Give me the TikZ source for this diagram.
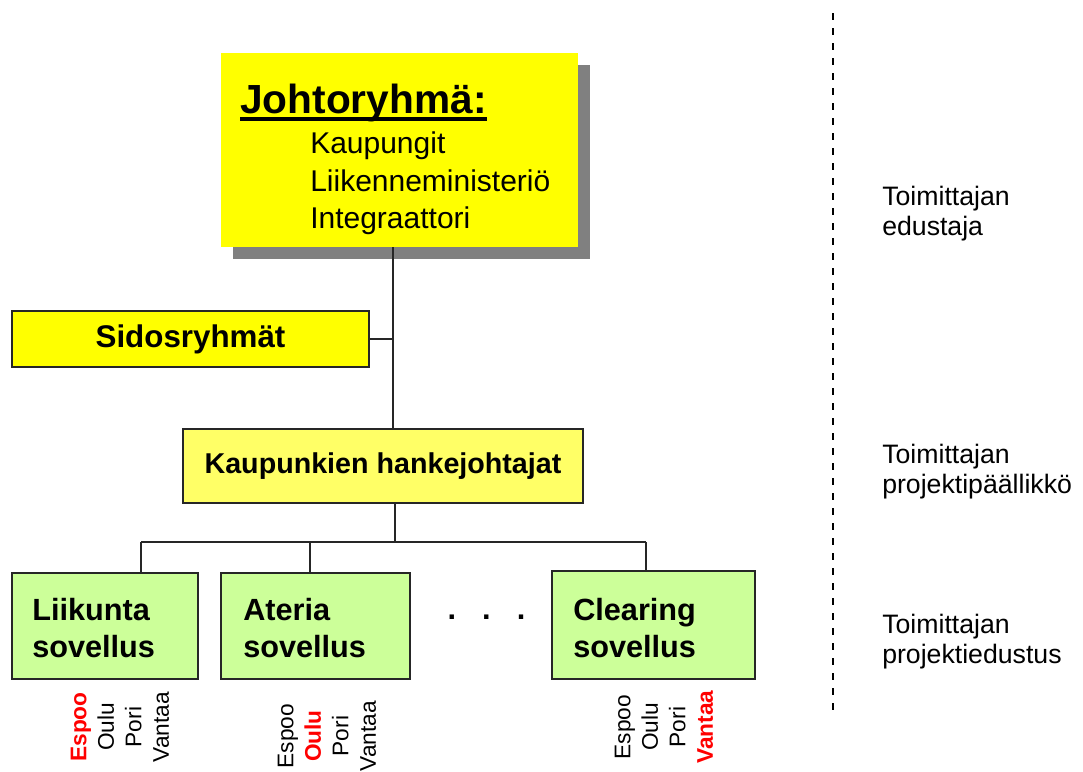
\documentclass[tikz,border=0pt]{standalone}
\usepackage{fontspec}
\setmainfont{Liberation Sans}
\usetikzlibrary{calc,shadows}
\definecolor{yel}{HTML}{FFFF00}
\definecolor{lyel}{HTML}{FFFF66}
\definecolor{grn}{HTML}{CCFF99}
\definecolor{shd}{HTML}{808080}
\definecolor{hred}{HTML}{FF0000}
\begin{document}
\begin{tikzpicture}[x=0.75pt,y=-0.75pt,
  conn/.style={draw=black!85, line width=1.1pt},
  boxborder/.style={draw=black!85, line width=1.1pt, inner sep=0pt},
  mainbox/.style={fill=yel, inner sep=0pt, drop shadow={shadow xshift=9pt, shadow yshift=-9pt, fill=shd, opacity=1}},
  ybox/.style={boxborder, fill=yel},
  lbox/.style={boxborder, fill=lyel},
  gbox/.style={boxborder, fill=grn},
  mtext/.style={anchor=base west, inner sep=0pt, font=\fontsize{22.5}{27}\selectfont},
  gtext/.style={anchor=base west, inner sep=0pt, font=\fontsize{23}{28}\selectfont\bfseries},
  rtext/.style={anchor=base west, inner sep=0pt, font=\fontsize{20}{24}\selectfont},
  city/.style={rotate=90, align=center, inner sep=0pt, font=\fontsize{17}{20.6}\selectfont}
]
\useasboundingbox (0,0) rectangle (1083,772);

% top box
\node[mainbox, minimum width=267.75pt, minimum height=145.5pt] (main) at (399.5,150) {};
\node[anchor=base west, inner sep=0pt, font=\fontsize{30.5}{36}\selectfont\bfseries] (title) at (240,113) {Johtoryhmä:};
\draw[line width=3pt] ($(title.base west)+(0,6)$) -- ($(title.base east)+(0,6)$);
\node[mtext] (m1) at (310,153) {Kaupungit};
\node[mtext] (m2) at (310,191) {Liikenneministeriö};
\node[mtext] (m3) at (310,228) {Integraattori};

% middle boxes
\node[ybox, minimum width=267.75pt, minimum height=42pt, font=\fontsize{23.5}{28}\selectfont\bfseries] (sid) at (190.5,339) {Sidosryhmät};
\node[lbox, minimum width=300pt, minimum height=55.5pt, font=\fontsize{21.5}{26}\selectfont\bfseries] (kp) at (383,466) {Kaupunkien hankejohtajat};

% application boxes
\node[gbox, minimum width=139.5pt, minimum height=79.5pt] (liik) at (105,626) {};
\node[gbox, minimum width=141.75pt, minimum height=79.5pt] (ater) at (315.5,626) {};
\node[gbox, minimum width=152.25pt, minimum height=81pt] (clr) at (653.5,625) {};
\node[gtext] (liik1) at (32,620) {Liikunta};
\node[gtext] (liik2) at (32,657) {sovellus};
\node[gtext] (ater1) at (243,620) {Ateria};
\node[gtext] (ater2) at (243,657) {sovellus};
\node[gtext] (clr1) at (573,620) {Clearing};
\node[gtext] (clr2) at (573,657) {sovellus};
\node[anchor=base, inner sep=0pt, font=\fontsize{23}{28}\selectfont\bfseries] (dots) at (486.5,619) {\makebox[25.9pt]{.}\makebox[25.9pt]{.}\makebox[25.9pt]{.}};

% city labels
\node[city] (c1) at (120,727) {{\color{hred}\bfseries Espoo}\\Oulu\\Pori\\Vantaa};
\node[city] (c2) at (327,736) {Espoo\\{\color{hred}\bfseries Oulu}\\Pori\\Vantaa};
\node[city] (c3) at (664,727) {Espoo\\Oulu\\Pori\\{\color{hred}\bfseries Vantaa}};

% connectors
\coordinate (vx) at (393,0);
\coordinate (bx) at (395,542);
\coordinate (hl) at (141,542);
\coordinate (hm) at (310,542);
\coordinate (hr) at (646,542);
\draw[conn] (main.south -| vx) -- (kp.north -| vx);
\draw[conn] (sid.east) -- (sid.east -| vx);
\draw[conn] (kp.south -| bx) -- (bx);
\draw[conn] (hl) -- (hr);
\draw[conn] (hl) -- (hl |- liik.north);
\draw[conn] (hm) -- (hm |- ater.north);
\draw[conn] (hr) -- (hr |- clr.north);

% dashed separator
\coordinate (d1) at (833,13);
\coordinate (d2) at (833,713);
\draw[dash pattern=on 5.25pt off 6pt, line width=1.5pt] (d1) -- (d2);

% right labels
\node[rtext] (r1a) at (882,205) {Toimittajan};
\node[rtext] (r1b) at (882,235) {edustaja};
\node[rtext] (r2a) at (882,463) {Toimittajan};
\node[rtext] (r2b) at (882,493) {projektipäällikkö};
\node[rtext] (r3a) at (882,633) {Toimittajan};
\node[rtext] (r3b) at (882,663) {projektiedustus};
\end{tikzpicture}
\end{document}
